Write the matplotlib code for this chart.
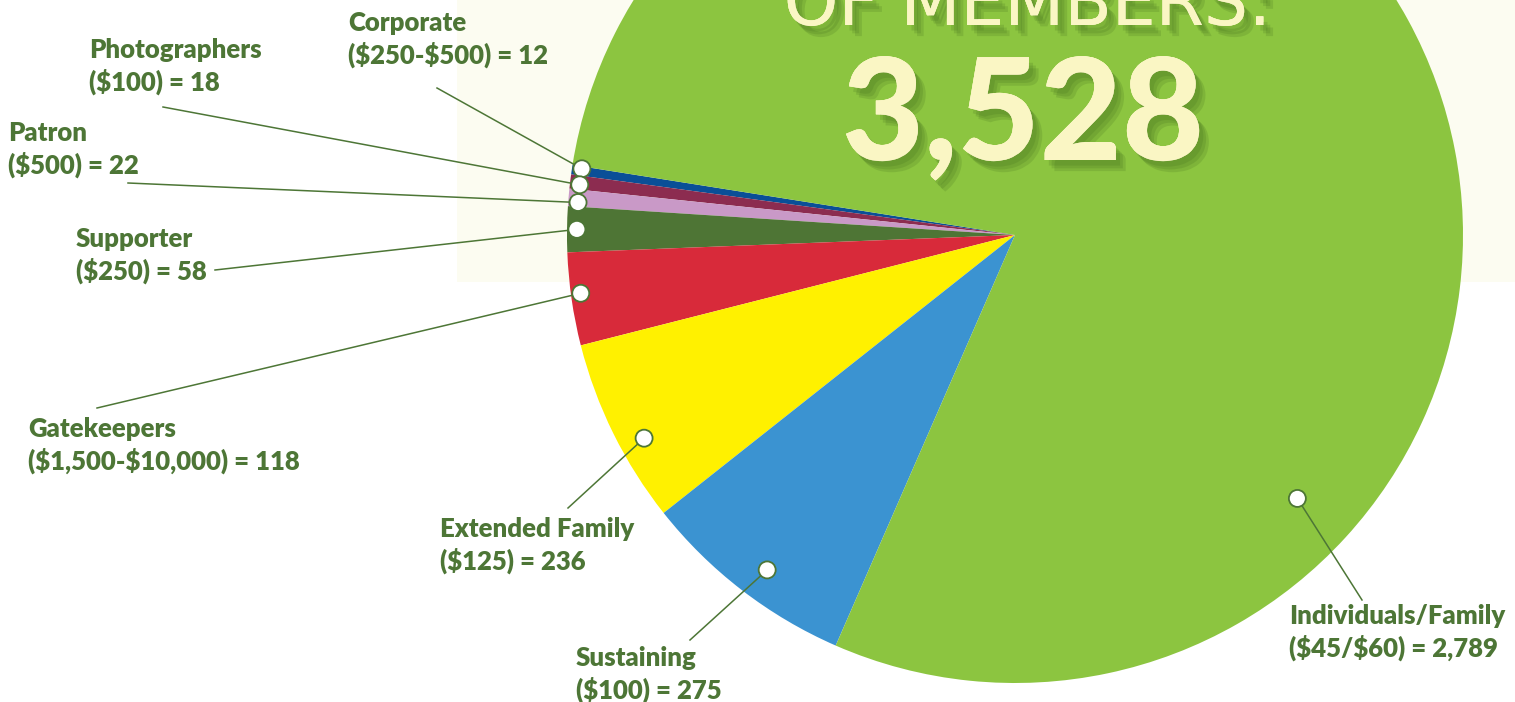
import numpy as np
import matplotlib.pyplot as plt
from matplotlib.patches import Rectangle, Circle
import matplotlib.patheffects as pe

# membership data
labels = ["Corporate", "Photographers", "Patron", "Supporter", "Gatekeepers",
          "Extended Family", "Sustaining", "Individuals/Family"]
prices = ["($250-$500)", "($100)", "($500)", "($250)", "($1,500-$10,000)",
          "($125)", "($100)", "($45/$60)"]
members = [12, 18, 22, 58, 118, 236, 275, 2789]
colors = ["#0a4f97", "#8c2c50", "#c999c7", "#4e7535", "#d82a3a",
          "#fff100", "#3b93d1", "#8cc540"]
total = sum(members)

TXT = "#4d7636"
W, H = 1515, 702
CX, CY, R = 1015, 235, 448


def px(x, y):
    # pixel position -> data units (pie radius = 1)
    return (x - CX) / R, (CY - y) / R


# label layout: text left/first baseline, leader start, dot position along wedge, dot radius
text_xy = [(348, 31), (89, 58), (8, 141), (76, 247), (28, 437),
           (440, 537), (576, 666), (1289, 624)]
lead_xy = [(437, 88), (163, 107), (128, 183), (215, 270), (97, 408),
           (568, 508), (690, 640), (1362, 600)]
dot_frac = [0.25, 0.65, 0.75, 0.5, 0.45, 0.6, 0.54, 0.248]
dot_rad = [0.978, 0.978, 0.978, 0.978, 0.978, 0.944, 0.93, 0.862]

fig = plt.figure(figsize=(W / 100, H / 100), dpi=100)
ax = fig.add_axes([0, 0, 1, 1])

wedges, _ = ax.pie(members, colors=colors, startangle=171, counterclock=True,
                   radius=1, center=(0, 0), wedgeprops=dict(linewidth=0))

x0, y0 = px(0, 0)
x1, y1 = px(W, H)
ax.set_xlim(x0, x1)
ax.set_ylim(y1, y0)
ax.set_aspect("auto")
ax.axis("off")

# cream panel behind the title
bx, by = px(457, 282)
ax.add_patch(Rectangle((bx, by), x1 - bx, y0 - by, facecolor="#fcfcf1",
                       edgecolor="none", zorder=0))
for w in wedges:
    w.set_zorder(1)

for i, w in enumerate(wedges):
    ang = np.deg2rad(w.theta1 + dot_frac[i] * (w.theta2 - w.theta1))
    dx, dy = dot_rad[i] * np.cos(ang), dot_rad[i] * np.sin(ang)
    lx, ly = px(*lead_xy[i])
    ax.plot([lx, dx], [ly, dy], color=TXT, lw=1.1, zorder=3)
    ax.add_patch(Circle((dx, dy), 8.5 / R, facecolor="white", edgecolor=TXT,
                        lw=1.3, zorder=4))
    tx, ty = px(*text_xy[i])
    ax.text(tx, ty, labels[i], color=TXT, fontsize=18.5, fontweight="heavy",
            family="Lato", ha="left", va="baseline", zorder=5)
    tx, ty = px(text_xy[i][0], text_xy[i][1] + 33)
    line2 = f"{prices[i]} = {members[i]:,}".replace("$", r"\$")
    ax.text(tx, ty, line2, color=TXT, fontsize=18.5,
            fontweight="heavy", family="Lato", ha="left", va="baseline", zorder=5)

# soft drop shadow: a few offset copies with low alpha
shadow = [pe.withSimplePatchShadow(offset=(o, -o - 1), shadow_rgbFace="#3f6b1c", alpha=0.18)
          for o in (7, 5, 3)]
tx, ty = px(1028, 25)
ax.text(tx, ty, "OF MEMBERS:", color="#faf6c4", fontsize=50, family="DejaVu Sans",
        ha="center", va="baseline", zorder=6, path_effects=shadow)
tx, ty = px(1023, 160)
ax.text(tx, ty, f"{total:,}", color="#faf6c4", fontsize=102, fontweight="black",
        family="Lato", ha="center", va="baseline", zorder=6, path_effects=shadow)

fig.savefig("out.png", dpi=100, facecolor="white")
